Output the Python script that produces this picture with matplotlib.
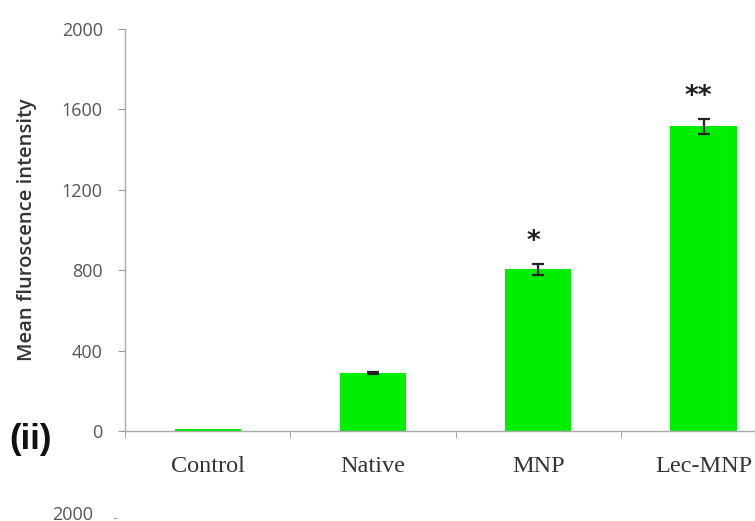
import matplotlib
matplotlib.use("Agg")
import matplotlib.pyplot as plt
import numpy as np

categories = ["Control", "Native", "MNP", "Lec-MNP"]
values = [8, 288, 805, 1515]
errors = [0, 6, 28, 38]
stars = ["", "", "*", "**"]
yticks = [0, 400, 800, 1200, 1600, 2000]

W, H = 755, 521
fig = plt.figure(figsize=(W / 100, H / 100), dpi=100)

# axes in pixel terms: y axis at x 125, bottom y 431, top y 29, 165 px per category
left, bottom, top, cat_w = 125, 431, 29, 165.3
ax = fig.add_axes([left / W, (H - bottom) / H, 5 * cat_w / W, (bottom - top) / H])

x = np.arange(len(categories))
ax.bar(x, values, width=0.4, color="#00ee00", edgecolor="#00ee00", linewidth=0)
ax.errorbar(x[1:], values[1:], yerr=errors[1:], fmt="none", ecolor="#222222",
            elinewidth=1.6, capsize=4, capthick=1.6)
for xi, v, e, s in zip(x, values, errors, stars):
    if s:
        ax.text(xi - 0.03, v + e + 45, s, ha="center", va="bottom", fontsize=19,
                color="#222222", family="DejaVu Sans", fontweight="bold")

ax.set_xlim(-0.5, 4.5)
ax.set_ylim(0, 2000)
ax.set_yticks(yticks)
ax.set_yticklabels([str(t) for t in yticks], fontsize=13, color="#555555",
                   family="Open Sans")
ax.set_xticks(x)
ax.set_xticklabels(categories, fontsize=17.5, color="#333333",
                   family="Liberation Serif")
ax.set_xticks(np.arange(-0.5, 4.5, 1), minor=True)
ax.tick_params(axis="x", which="major", length=0, pad=18)
ax.tick_params(axis="x", which="minor", length=5, color="#999999", direction="out")
ax.tick_params(axis="y", length=5, color="#999999", direction="out", pad=11)

for side in ["top", "right"]:
    ax.spines[side].set_visible(False)
for side in ["left", "bottom"]:
    ax.spines[side].set_color("#aaaaaa")
    ax.spines[side].set_linewidth(1)

fig.text(27 / W, (H - 230) / H, "Mean fluroscence intensity", fontsize=14.5,
         color="#333333", family="Open Sans", fontweight="semibold",
         rotation=90, ha="center", va="center")

fig.text(9 / W, (H - 440) / H, "(ii)", fontsize=25, fontweight="bold",
         family="Liberation Sans", ha="left", va="center", color="#111111")
fig.text(52 / W, (H - 506) / H, "2000", fontsize=13, color="#555555",
         family="Open Sans", ha="left", va="top")
fig.text(112 / W, (H - 511) / H, "-", fontsize=11, color="#999999",
         family="Open Sans", ha="left", va="top")

fig.savefig("out.png", dpi=100)
